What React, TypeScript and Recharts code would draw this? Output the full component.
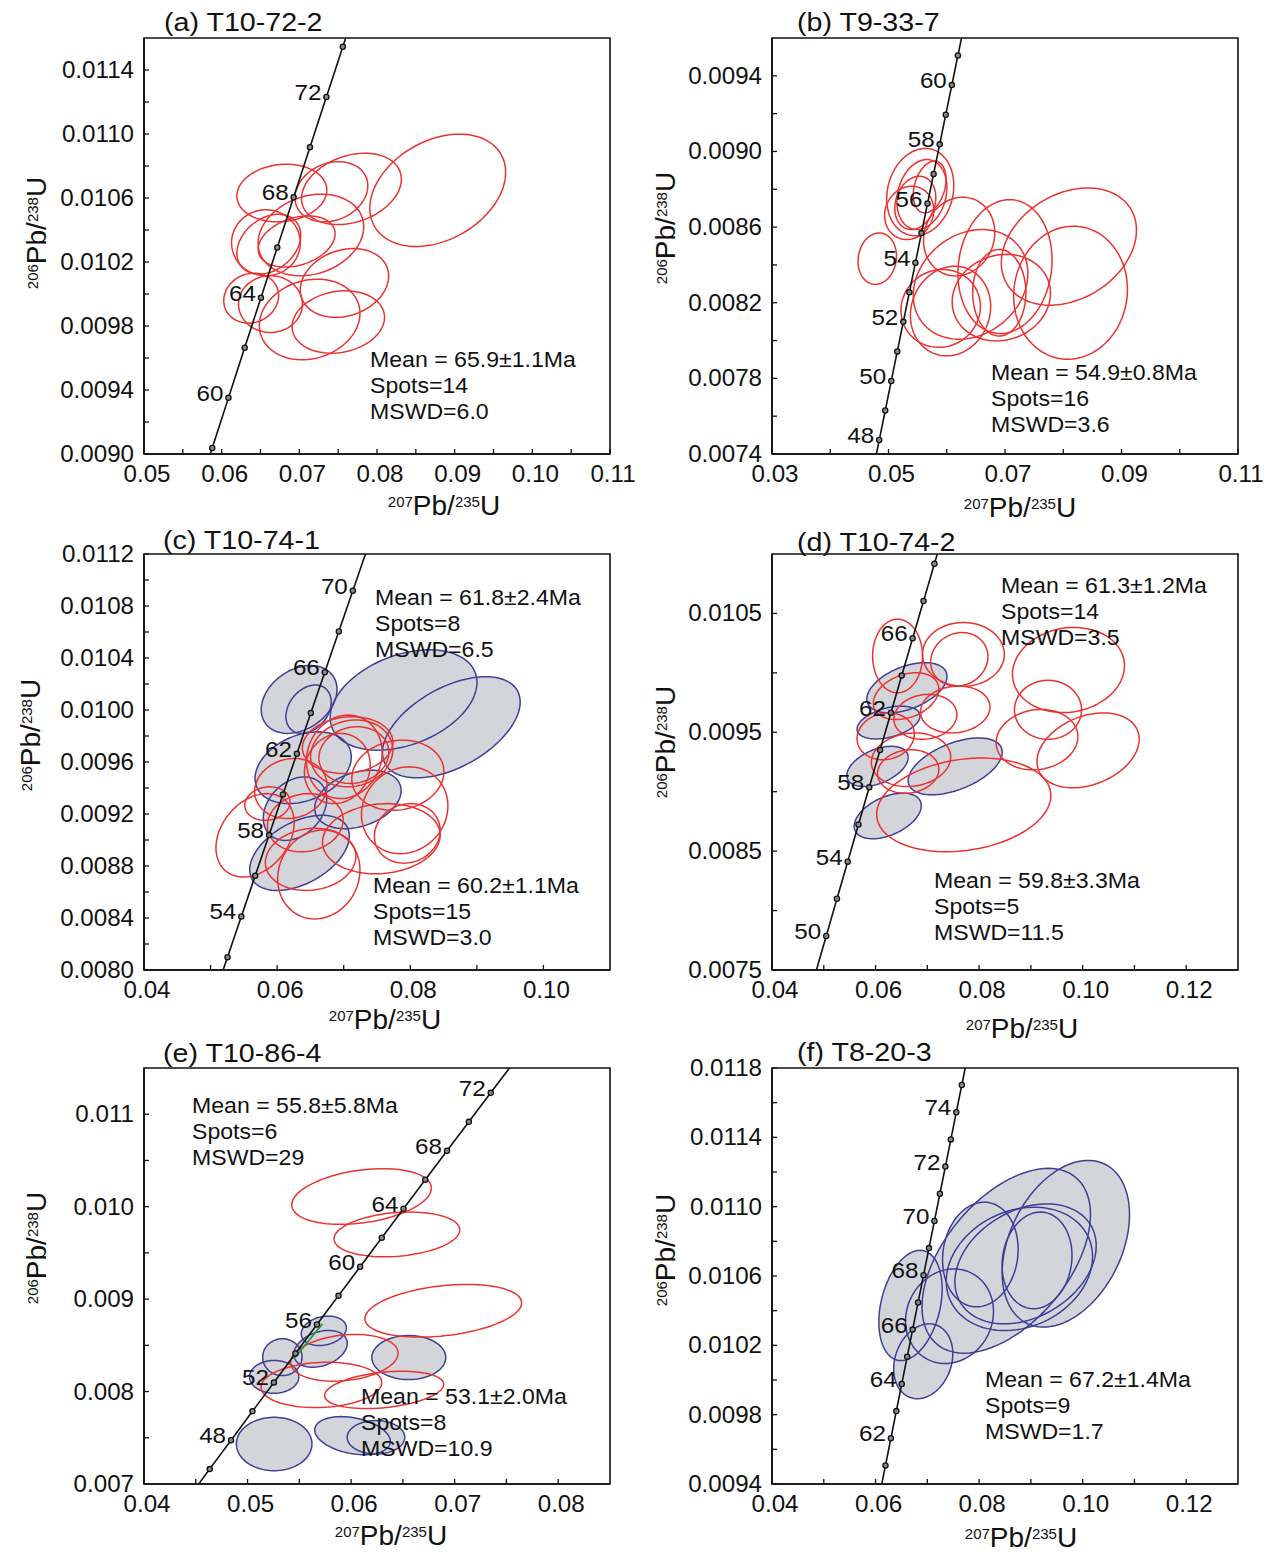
import React from 'react';
import { ScatterChart, Scatter, XAxis, YAxis, ReferenceArea } from 'recharts';

// ---------- Concordia reference points (age in Ma, 207Pb/235U, 206Pb/238U) ----------
const concAges = [44, 46, 47, 48, 49, 50, 51, 52, 53, 54, 55, 56, 57, 58, 59, 60, 61, 62, 63, 64, 65, 66, 67, 68, 69, 70, 71, 72, 73, 74, 75, 76, 78];
const concX = [0.0442858, 0.0463448, 0.0473758, 0.0484078, 0.0494408, 0.0504748, 0.0515099, 0.0525459, 0.0535831, 0.0546212, 0.0556603, 0.0567005, 0.0577417, 0.0587838, 0.0598271, 0.0608713, 0.0619166, 0.0629628, 0.0640102, 0.0650585, 0.066108, 0.0671584, 0.0682099, 0.0692624, 0.070316, 0.0713704, 0.0724261, 0.0734827, 0.0745404, 0.0755991, 0.076659, 0.0777197, 0.0798444];
const concY = [0.0068488, 0.0071612, 0.0073175, 0.0074737, 0.00763, 0.0077863, 0.0079427, 0.008099, 0.0082554, 0.0084118, 0.0085683, 0.0087247, 0.0088812, 0.0090377, 0.0091943, 0.0093508, 0.0095074, 0.009664, 0.0098207, 0.0099773, 0.0101339, 0.0102907, 0.0104474, 0.0106041, 0.0107609, 0.0109177, 0.0110746, 0.0112314, 0.0113882, 0.0115451, 0.0117021, 0.011859, 0.012173];

// ---------- Error ellipses: [x, y, halfWidthX, halfHeightY, rho] ----------
const aRed = [
  [0.08782, 0.010648, 0.008745, 0.000351, 0.32],
  [0.07671, 0.010657, 0.006427, 0.000223, 0.27],
  [0.07413, 0.010639, 0.004689, 0.000188, 0.2],
  [0.06775, 0.010631, 0.005795, 0.00018, 0.1],
  [0.07149, 0.010369, 0.006796, 0.000255, 0.2],
  [0.0657, 0.01032, 0.004425, 0.000206, 0.0],
  [0.06965, 0.010328, 0.004952, 0.00016, 0.3],
  [0.06607, 0.010311, 0.00411, 0.000187, 0.3],
  [0.0638, 0.009974, 0.00353, 0.000156, 0.1],
  [0.06628, 0.009937, 0.00411, 0.000177, 0.0],
  [0.07133, 0.009841, 0.00648, 0.000252, 0.15],
  [0.07581, 0.010069, 0.00569, 0.000215, 0.2],
  [0.07502, 0.009825, 0.00595, 0.000195, 0.15],
];
const bRed = [
  [0.08097, 0.008497, 0.0116, 0.00031, 0.28],
  [0.08125, 0.008253, 0.00977, 0.000352, 0.05],
  [0.07, 0.008391, 0.00808, 0.000354, 0.1],
  [0.06213, 0.00855, 0.00612, 0.000208, 0.1],
  [0.06409, 0.008297, 0.00984, 0.00029, 0.2],
  [0.06065, 0.008156, 0.00689, 0.000237, 0.1],
  [0.05896, 0.00817, 0.00682, 0.000206, 0.05],
  [0.06937, 0.008227, 0.00844, 0.000229, 0.1],
  [0.06902, 0.008253, 0.00457, 0.000229, 0.0],
  [0.05545, 0.008785, 0.00576, 0.000231, 0.15],
  [0.05573, 0.008772, 0.00429, 0.000185, 0.2],
  [0.05707, 0.008812, 0.00281, 0.000137, 0.3],
  [0.0546, 0.008728, 0.00352, 0.000141, 0.2],
  [0.05355, 0.008675, 0.00422, 0.000141, 0.1],
  [0.04807, 0.008433, 0.0033, 0.000136, 0.1],
];
const cGrey = [
  [0.0633, 0.010081, 0.00569, 0.000261, 0.3],
  [0.06472, 0.010006, 0.0034, 0.000186, 0.3],
  [0.07899, 0.010077, 0.01103, 0.000386, 0.35],
  [0.08616, 0.009867, 0.01035, 0.000389, 0.5],
  [0.06391, 0.009556, 0.00723, 0.000276, 0.3],
  [0.07213, 0.009312, 0.00649, 0.000225, 0.3],
  [0.06268, 0.009241, 0.00476, 0.000244, 0.3],
  [0.06336, 0.008901, 0.00748, 0.000289, 0.45],
];
const cRed = [
  [0.07009, 0.00964, 0.00569, 0.000321, 0.1],
  [0.0712, 0.009666, 0.00618, 0.000257, 0.1],
  [0.06904, 0.00955, 0.00494, 0.00027, 0.1],
  [0.07152, 0.009653, 0.00525, 0.000218, 0.1],
  [0.06206, 0.009396, 0.00544, 0.000231, 0.1],
  [0.05668, 0.009036, 0.00587, 0.000321, 0.3],
  [0.06422, 0.009133, 0.00569, 0.000224, 0.1],
  [0.06503, 0.008851, 0.0068, 0.000239, 0.1],
  [0.06626, 0.008735, 0.00618, 0.000342, 0.1],
  [0.07565, 0.00901, 0.00884, 0.00027, 0.1],
  [0.07955, 0.009051, 0.00494, 0.000229, 0.1],
  [0.07813, 0.009498, 0.00692, 0.00027, 0.1],
  [0.07916, 0.009229, 0.00649, 0.000334, 0.1],
  [0.07059, 0.00973, 0.0068, 0.000218, 0.1],
  [0.05854, 0.00928, 0.0034, 0.000129, 0.1],
];
const dGrey = [
  [0.06606, 0.009875, 0.00774, 0.000211, 0.45],
  [0.06251, 0.009582, 0.00608, 0.000138, 0.4],
  [0.06038, 0.009213, 0.00592, 0.000169, 0.45],
  [0.07538, 0.009213, 0.00908, 0.000239, 0.5],
  [0.06235, 0.008796, 0.00648, 0.000192, 0.45],
];
const dRed = [
  [0.06425, 0.010142, 0.00482, 0.00031, 0.0],
  [0.07696, 0.010156, 0.0079, 0.000268, 0.0],
  [0.07617, 0.010114, 0.00553, 0.000225, 0.1],
  [0.0659, 0.009804, 0.00632, 0.000197, 0.3],
  [0.06962, 0.00963, 0.00608, 0.000189, 0.1],
  [0.07538, 0.009692, 0.00671, 0.000197, 0.1],
  [0.06196, 0.009466, 0.00553, 0.000197, 0.1],
  [0.06685, 0.009269, 0.00766, 0.000225, 0.1],
  [0.0663, 0.00917, 0.00592, 0.000183, 0.1],
  [0.07704, 0.008889, 0.01682, 0.000394, 0.2],
  [0.09726, 0.010024, 0.01082, 0.000358, 0.1],
  [0.09331, 0.009689, 0.00648, 0.000248, 0.0],
  [0.09118, 0.009438, 0.0079, 0.000254, 0.1],
  [0.10105, 0.009348, 0.00987, 0.000315, 0.3],
];
const eGrey = [
  [0.05736, 0.008657, 0.00218, 0.000159, 0.2],
  [0.05336, 0.008372, 0.0019, 0.000199, 0.0],
  [0.05705, 0.008462, 0.00258, 0.000199, 0.3],
  [0.05257, 0.008159, 0.00238, 0.000177, 0.0],
  [0.06557, 0.008368, 0.00357, 0.000238, 0.0],
  [0.05257, 0.007433, 0.00365, 0.000289, 0.0],
  [0.06014, 0.007523, 0.00365, 0.000206, -0.3],
  [0.0624, 0.007505, 0.00278, 0.000181, 0.0],
];
const eRed = [
  [0.06101, 0.01011, 0.00674, 0.000301, 0.3],
  [0.06442, 0.0097, 0.00607, 0.000242, 0.2],
  [0.0689, 0.008874, 0.00757, 0.000285, 0.3],
  [0.05935, 0.008365, 0.00519, 0.000253, 0.2],
  [0.05713, 0.008072, 0.00583, 0.000245, 0.1],
  [0.06319, 0.008018, 0.00575, 0.000202, 0.3],
];
const eGreen = [
  { x: 0.05447, y: 0.008354 },
  { x: 0.05724, y: 0.008733 },
];
const fGrey = [
  [0.09675, 0.010786, 0.0123, 0.000481, 0.35],
  [0.08524, 0.010688, 0.01627, 0.000533, 0.5],
  [0.08024, 0.010724, 0.0073, 0.000302, 0.1],
  [0.08778, 0.010641, 0.01413, 0.000356, 0.2],
  [0.08897, 0.01067, 0.01365, 0.000346, 0.3],
  [0.09119, 0.01069, 0.00675, 0.000279, 0.1],
  [0.06675, 0.01043, 0.00611, 0.000318, 0.3],
  [0.07429, 0.010368, 0.00849, 0.000273, 0.1],
  [0.06921, 0.010108, 0.00571, 0.000216, 0.2],
];

// ---------- Axis ticks ----------
const aXMajor = [0.05, 0.06, 0.07, 0.08, 0.09, 0.10, 0.11];
const aXMinor = [0.055, 0.065, 0.075, 0.085, 0.095, 0.105];
const aYMajor = [0.009, 0.0094, 0.0098, 0.0102, 0.0106, 0.011, 0.0114];
const aYMinor = [0.0092, 0.0096, 0.01, 0.0104, 0.0108, 0.0112];
const bXMajor = [0.03, 0.05, 0.07, 0.09, 0.11];
const bXMinor = [0.04, 0.06, 0.08, 0.10];
const bYMajor = [0.0074, 0.0078, 0.0082, 0.0086, 0.009, 0.0094];
const bYMinor = [0.0076, 0.008, 0.0084, 0.0088, 0.0092];
const cXMajor = [0.04, 0.06, 0.08, 0.10];
const cXMinor = [0.05, 0.07, 0.09];
const cYMajor = [0.008, 0.0084, 0.0088, 0.0092, 0.0096, 0.01, 0.0104, 0.0108, 0.0112];
const cYMinor = [0.0082, 0.0086, 0.009, 0.0094, 0.0098, 0.0102, 0.0106, 0.011];
const dXMajor = [0.04, 0.06, 0.08, 0.10, 0.12];
const dXMinor = [0.05, 0.07, 0.09, 0.11];
const dYMajor = [0.0075, 0.0085, 0.0095, 0.0105];
const dYMinor = [0.008, 0.009, 0.01];
const eXMajor = [0.04, 0.05, 0.06, 0.07, 0.08];
const eXMinor = [0.045, 0.055, 0.065, 0.075];
const eYMajor = [0.007, 0.008, 0.009, 0.01, 0.011];
const eYMinor = [0.0075, 0.0085, 0.0095, 0.0105];
const fXMajor = [0.04, 0.06, 0.08, 0.10, 0.12];
const fXMinor = [0.05, 0.07, 0.09, 0.11];
const fYMajor = [0.0094, 0.0098, 0.0102, 0.0106, 0.011, 0.0114, 0.0118];
const fYMinor = [0.0096, 0.01, 0.0104, 0.0108, 0.0112, 0.0116];

// ---------- Labelled ages on the concordia ----------
const aAgeLabels = [60, 64, 68, 72];
const bAgeLabels = [48, 50, 52, 54, 56, 58, 60];
const cAgeLabels = [54, 58, 62, 66, 70];
const dAgeLabels = [50, 54, 58, 62, 66];
const eAgeLabels = [48, 52, 56, 60, 64, 68, 72];
const fAgeLabels = [62, 64, 66, 68, 70, 72, 74];

// ---------- Texts ----------
const panelTitles = ['(a) T10-72-2', '(b) T9-33-7', '(c) T10-74-1', '(d) T10-74-2', '(e) T10-86-4', '(f) T8-20-3'];
const annA = ['Mean = 65.9±1.1Ma', 'Spots=14', 'MSWD=6.0'];
const annB = ['Mean = 54.9±0.8Ma', 'Spots=16', 'MSWD=3.6'];
const annC1 = ['Mean = 61.8±2.4Ma', 'Spots=8', 'MSWD=6.5'];
const annC2 = ['Mean = 60.2±1.1Ma', 'Spots=15', 'MSWD=3.0'];
const annD1 = ['Mean = 61.3±1.2Ma', 'Spots=14', 'MSWD=3.5'];
const annD2 = ['Mean = 59.8±3.3Ma', 'Spots=5', 'MSWD=11.5'];
const annE1 = ['Mean = 55.8±5.8Ma', 'Spots=6', 'MSWD=29'];
const annE2 = ['Mean = 53.1±2.0Ma', 'Spots=8', 'MSWD=10.9'];
const annF = ['Mean = 67.2±1.4Ma', 'Spots=9', 'MSWD=1.7'];

// ---------- Style ----------
const FONT = '"Liberation Sans", Arial, Helvetica, sans-serif';
const RED = '#ea3232';
const BLUE = '#3e3f95';
const GREY = '#d3d5da';
const INK = '#111';

const CH_W = 660;
const CH_H = 514;

function ellipsePoints(e: number[]) {
  const [cx, cy, sx, sy, rho] = e;
  const k = Math.sqrt(1 - rho * rho);
  const pts: { x: number; y: number }[] = [];
  const n = 90;
  for (let i = 0; i <= n; i++) {
    const t = (i / n) * 2 * Math.PI;
    pts.push({ x: cx + sx * Math.cos(t), y: cy + sy * (rho * Math.cos(t) + k * Math.sin(t)) });
  }
  return pts;
}

const renderNone = () => <g />;

const isIn = (v: number, arr: number[]) => arr.some((m) => Math.abs(m - v) < 1e-9);

function makeXTick(major: number[], dec: number) {
  return (p: any) => {
    const { x, y, payload } = p;
    const v = payload.value;
    const isMajor = isIn(v, major);
    return (
      <g>
        <line x1={x} y1={y} x2={x} y2={y - 5} stroke={INK} strokeWidth={1.3} />
        {isMajor && (
          <text transform={`translate(${x + 3},${y + 28}) scale(1.05,1)`} textAnchor="middle" fontSize={23} fill={INK} fontFamily={FONT}>
            {v.toFixed(dec)}
          </text>
        )}
      </g>
    );
  };
}

function makeYTick(major: number[], dec: number) {
  return (p: any) => {
    const { x, y, payload } = p;
    const v = payload.value;
    const isMajor = isIn(v, major);
    return (
      <g>
        <line x1={x} y1={y} x2={x + 5} y2={y} stroke={INK} strokeWidth={1.3} />
        {isMajor && (
          <text transform={`translate(${x - 10},${y + 8}) scale(1.05,1)`} textAnchor="end" fontSize={23} fill={INK} fontFamily={FONT}>
            {v.toFixed(dec)}
          </text>
        )}
      </g>
    );
  };
}

function makeMarker(labels: number[]) {
  return (p: any) => {
    const { cx, cy, payload } = p;
    if (cx == null || cy == null) return <g />;
    const show = labels.includes(payload.age);
    return (
      <g>
        <circle cx={cx} cy={cy} r={2.6} fill="#8a8a8a" stroke={INK} strokeWidth={1.3} />
        {show && (
          <text transform={`translate(${cx - 5},${cy + 3}) scale(1.1,1)`} textAnchor="end" fontSize={22} fill={INK} fontFamily={FONT}>
            {payload.age}
          </text>
        )}
      </g>
    );
  };
}

const concData = concAges.map((a, i) => ({ x: concX[i], y: concY[i], age: a }));

type PanelCfg = {
  left: number;
  top: number;
  xDomain: [number, number];
  yDomain: [number, number];
  xMajor: number[];
  xMinor: number[];
  yMajor: number[];
  yMinor: number[];
  xDec: number;
  yDec: number;
  grey: number[][];
  red: number[][];
  step: number;
  labels: number[];
  green?: { x: number; y: number }[];
};

const panels: PanelCfg[] = [
  { left: 0, top: 0, xDomain: [0.05, 0.11], yDomain: [0.009, 0.0116], xMajor: aXMajor, xMinor: aXMinor, yMajor: aYMajor, yMinor: aYMinor, xDec: 2, yDec: 4, grey: [], red: aRed, step: 2, labels: aAgeLabels },
  { left: 628, top: 0, xDomain: [0.03, 0.11], yDomain: [0.0074, 0.0096], xMajor: bXMajor, xMinor: bXMinor, yMajor: bYMajor, yMinor: bYMinor, xDec: 2, yDec: 4, grey: [], red: bRed, step: 1, labels: bAgeLabels },
  { left: 0, top: 516, xDomain: [0.04, 0.11], yDomain: [0.008, 0.0112], xMajor: cXMajor, xMinor: cXMinor, yMajor: cYMajor, yMinor: cYMinor, xDec: 2, yDec: 4, grey: cGrey, red: cRed, step: 2, labels: cAgeLabels },
  { left: 628, top: 516, xDomain: [0.04, 0.13], yDomain: [0.0075, 0.011], xMajor: dXMajor, xMinor: dXMinor, yMajor: dYMajor, yMinor: dYMinor, xDec: 2, yDec: 4, grey: dGrey, red: dRed, step: 2, labels: dAgeLabels },
  { left: 0, top: 1030, xDomain: [0.04, 0.085], yDomain: [0.007, 0.0115], xMajor: eXMajor, xMinor: eXMinor, yMajor: eYMajor, yMinor: eYMinor, xDec: 2, yDec: 3, grey: eGrey, red: eRed, step: 2, labels: eAgeLabels, green: eGreen },
  { left: 628, top: 1030, xDomain: [0.04, 0.13], yDomain: [0.0094, 0.0118], xMajor: fXMajor, xMinor: fXMinor, yMajor: fYMajor, yMinor: fYMinor, xDec: 2, yDec: 4, grey: fGrey, red: [], step: 1, labels: fAgeLabels },
];

function Panel({ cfg }: { cfg: PanelCfg }) {
  const markers = concData.filter((d) => cfg.step === 1 || d.age % 2 === 0);
  const xTicks = [...cfg.xMajor, ...cfg.xMinor].sort((a, b) => a - b);
  const yTicks = [...cfg.yMajor, ...cfg.yMinor].sort((a, b) => a - b);
  const axisLine = { stroke: INK, strokeWidth: 1.6 };
  return (
    <div style={{ position: 'absolute', left: cfg.left, top: cfg.top, width: CH_W, height: CH_H }}>
      <ScatterChart width={CH_W} height={CH_H} margin={{ top: 38, right: 50, bottom: 0, left: 44 }}>
        <XAxis
          type="number"
          dataKey="x"
          domain={cfg.xDomain}
          allowDataOverflow
          ticks={xTicks}
          interval={0}
          tickLine={false}
          tickSize={0}
          tickMargin={0}
          height={60}
          axisLine={axisLine}
          tick={makeXTick(cfg.xMajor, cfg.xDec)}
        />
        <YAxis
          type="number"
          dataKey="y"
          domain={cfg.yDomain}
          allowDataOverflow
          ticks={yTicks}
          interval={0}
          tickLine={false}
          tickSize={0}
          tickMargin={0}
          width={100}
          axisLine={axisLine}
          tick={makeYTick(cfg.yMajor, cfg.yDec)}
        />
        {cfg.grey.map((e, i) => (
          <Scatter key={'gf' + i} data={ellipsePoints(e)} isAnimationActive={false} shape={renderNone} line={{ fill: GREY, stroke: 'none' }} lineType="joint" />
        ))}
        {cfg.grey.map((e, i) => (
          <Scatter key={'gs' + i} data={ellipsePoints(e)} isAnimationActive={false} shape={renderNone} line={{ fill: 'none', stroke: BLUE, strokeWidth: 1.5 }} lineType="joint" />
        ))}
        {cfg.red.map((e, i) => (
          <Scatter key={'r' + i} data={ellipsePoints(e)} isAnimationActive={false} shape={renderNone} line={{ fill: 'none', stroke: RED, strokeWidth: 1.5 }} lineType="joint" />
        ))}
        <Scatter data={concData} isAnimationActive={false} shape={renderNone} line={{ fill: 'none', stroke: INK, strokeWidth: 1.6 }} lineType="joint" />
        {cfg.green && (
          <Scatter data={cfg.green} isAnimationActive={false} shape={renderNone} line={{ fill: 'none', stroke: '#1f9a4c', strokeWidth: 1.8 }} lineType="joint" />
        )}
        <Scatter data={markers} isAnimationActive={false} shape={makeMarker(cfg.labels)} />
        <ReferenceArea
          x1={cfg.xDomain[0]}
          x2={cfg.xDomain[1]}
          y1={cfg.yDomain[0]}
          y2={cfg.yDomain[1]}
          fill="none"
          fillOpacity={0}
          stroke={INK}
          strokeWidth={1.6}
          ifOverflow="visible"
        />
      </ScatterChart>
    </div>
  );
}

function Ann({ x, y, lines }: { x: number; y: number; lines: string[] }) {
  return (
    <g>
      {lines.map((t, i) => (
        <text key={i} transform={`translate(${x},${y + i * 26}) scale(1.05,1)`} fontSize={22} fill={INK} fontFamily={FONT}>
          {t}
        </text>
      ))}
    </g>
  );
}

function XTitle({ cx, y }: { cx: number; y: number }) {
  return (
    <text x={cx} y={y} textAnchor="middle" fontSize={28} fill={INK} fontFamily={FONT}>
      <tspan fontSize={15} dy={-8}>207</tspan>
      <tspan dy={8}>Pb/</tspan>
      <tspan fontSize={15} dy={-8}>235</tspan>
      <tspan dy={8}>U</tspan>
    </text>
  );
}

function YTitle({ x, cy }: { x: number; cy: number }) {
  return (
    <text transform={`translate(${x},${cy}) rotate(-90)`} textAnchor="middle" fontSize={28} fill={INK} fontFamily={FONT}>
      <tspan fontSize={15} dy={-8}>206</tspan>
      <tspan dy={8}>Pb/</tspan>
      <tspan fontSize={15} dy={-8}>238</tspan>
      <tspan dy={8}>U</tspan>
    </text>
  );
}

const titlePos = [
  [164, 31], [797, 31], [163, 549], [797, 551], [163, 1062], [797, 1061],
];
const xTitlePos = [
  [444, 515], [1020, 517], [385, 1029], [1022, 1038], [391, 1545], [1021, 1547],
];
const yTitlePos = [
  [46, 233], [675, 228], [40, 735], [675, 742], [46, 1248], [675, 1250],
];

export default function App() {
  return (
    <div style={{ position: 'absolute', left: 0, top: 0, width: 1269, height: 1554, background: '#fff', overflow: 'hidden' }}>
      {panels.map((p, i) => (
        <Panel key={i} cfg={p} />
      ))}
      <svg width={1269} height={1554} style={{ position: 'absolute', left: 0, top: 0, pointerEvents: 'none' }}>
        {panelTitles.map((t, i) => (
          <text key={'t' + i} transform={`translate(${titlePos[i][0]},${titlePos[i][1]}) scale(1.08,1)`} fontSize={26.5} fill={INK} fontFamily={FONT}>
            {t}
          </text>
        ))}
        {xTitlePos.map((p, i) => (
          <XTitle key={'xt' + i} cx={p[0]} y={p[1]} />
        ))}
        {yTitlePos.map((p, i) => (
          <YTitle key={'yt' + i} x={p[0]} cy={p[1]} />
        ))}
        <Ann x={370} y={367} lines={annA} />
        <Ann x={991} y={380} lines={annB} />
        <Ann x={375} y={605} lines={annC1} />
        <Ann x={373} y={893} lines={annC2} />
        <Ann x={1001} y={593} lines={annD1} />
        <Ann x={934} y={888} lines={annD2} />
        <Ann x={192} y={1113} lines={annE1} />
        <Ann x={361} y={1404} lines={annE2} />
        <Ann x={985} y={1387} lines={annF} />
      </svg>
    </div>
  );
}
